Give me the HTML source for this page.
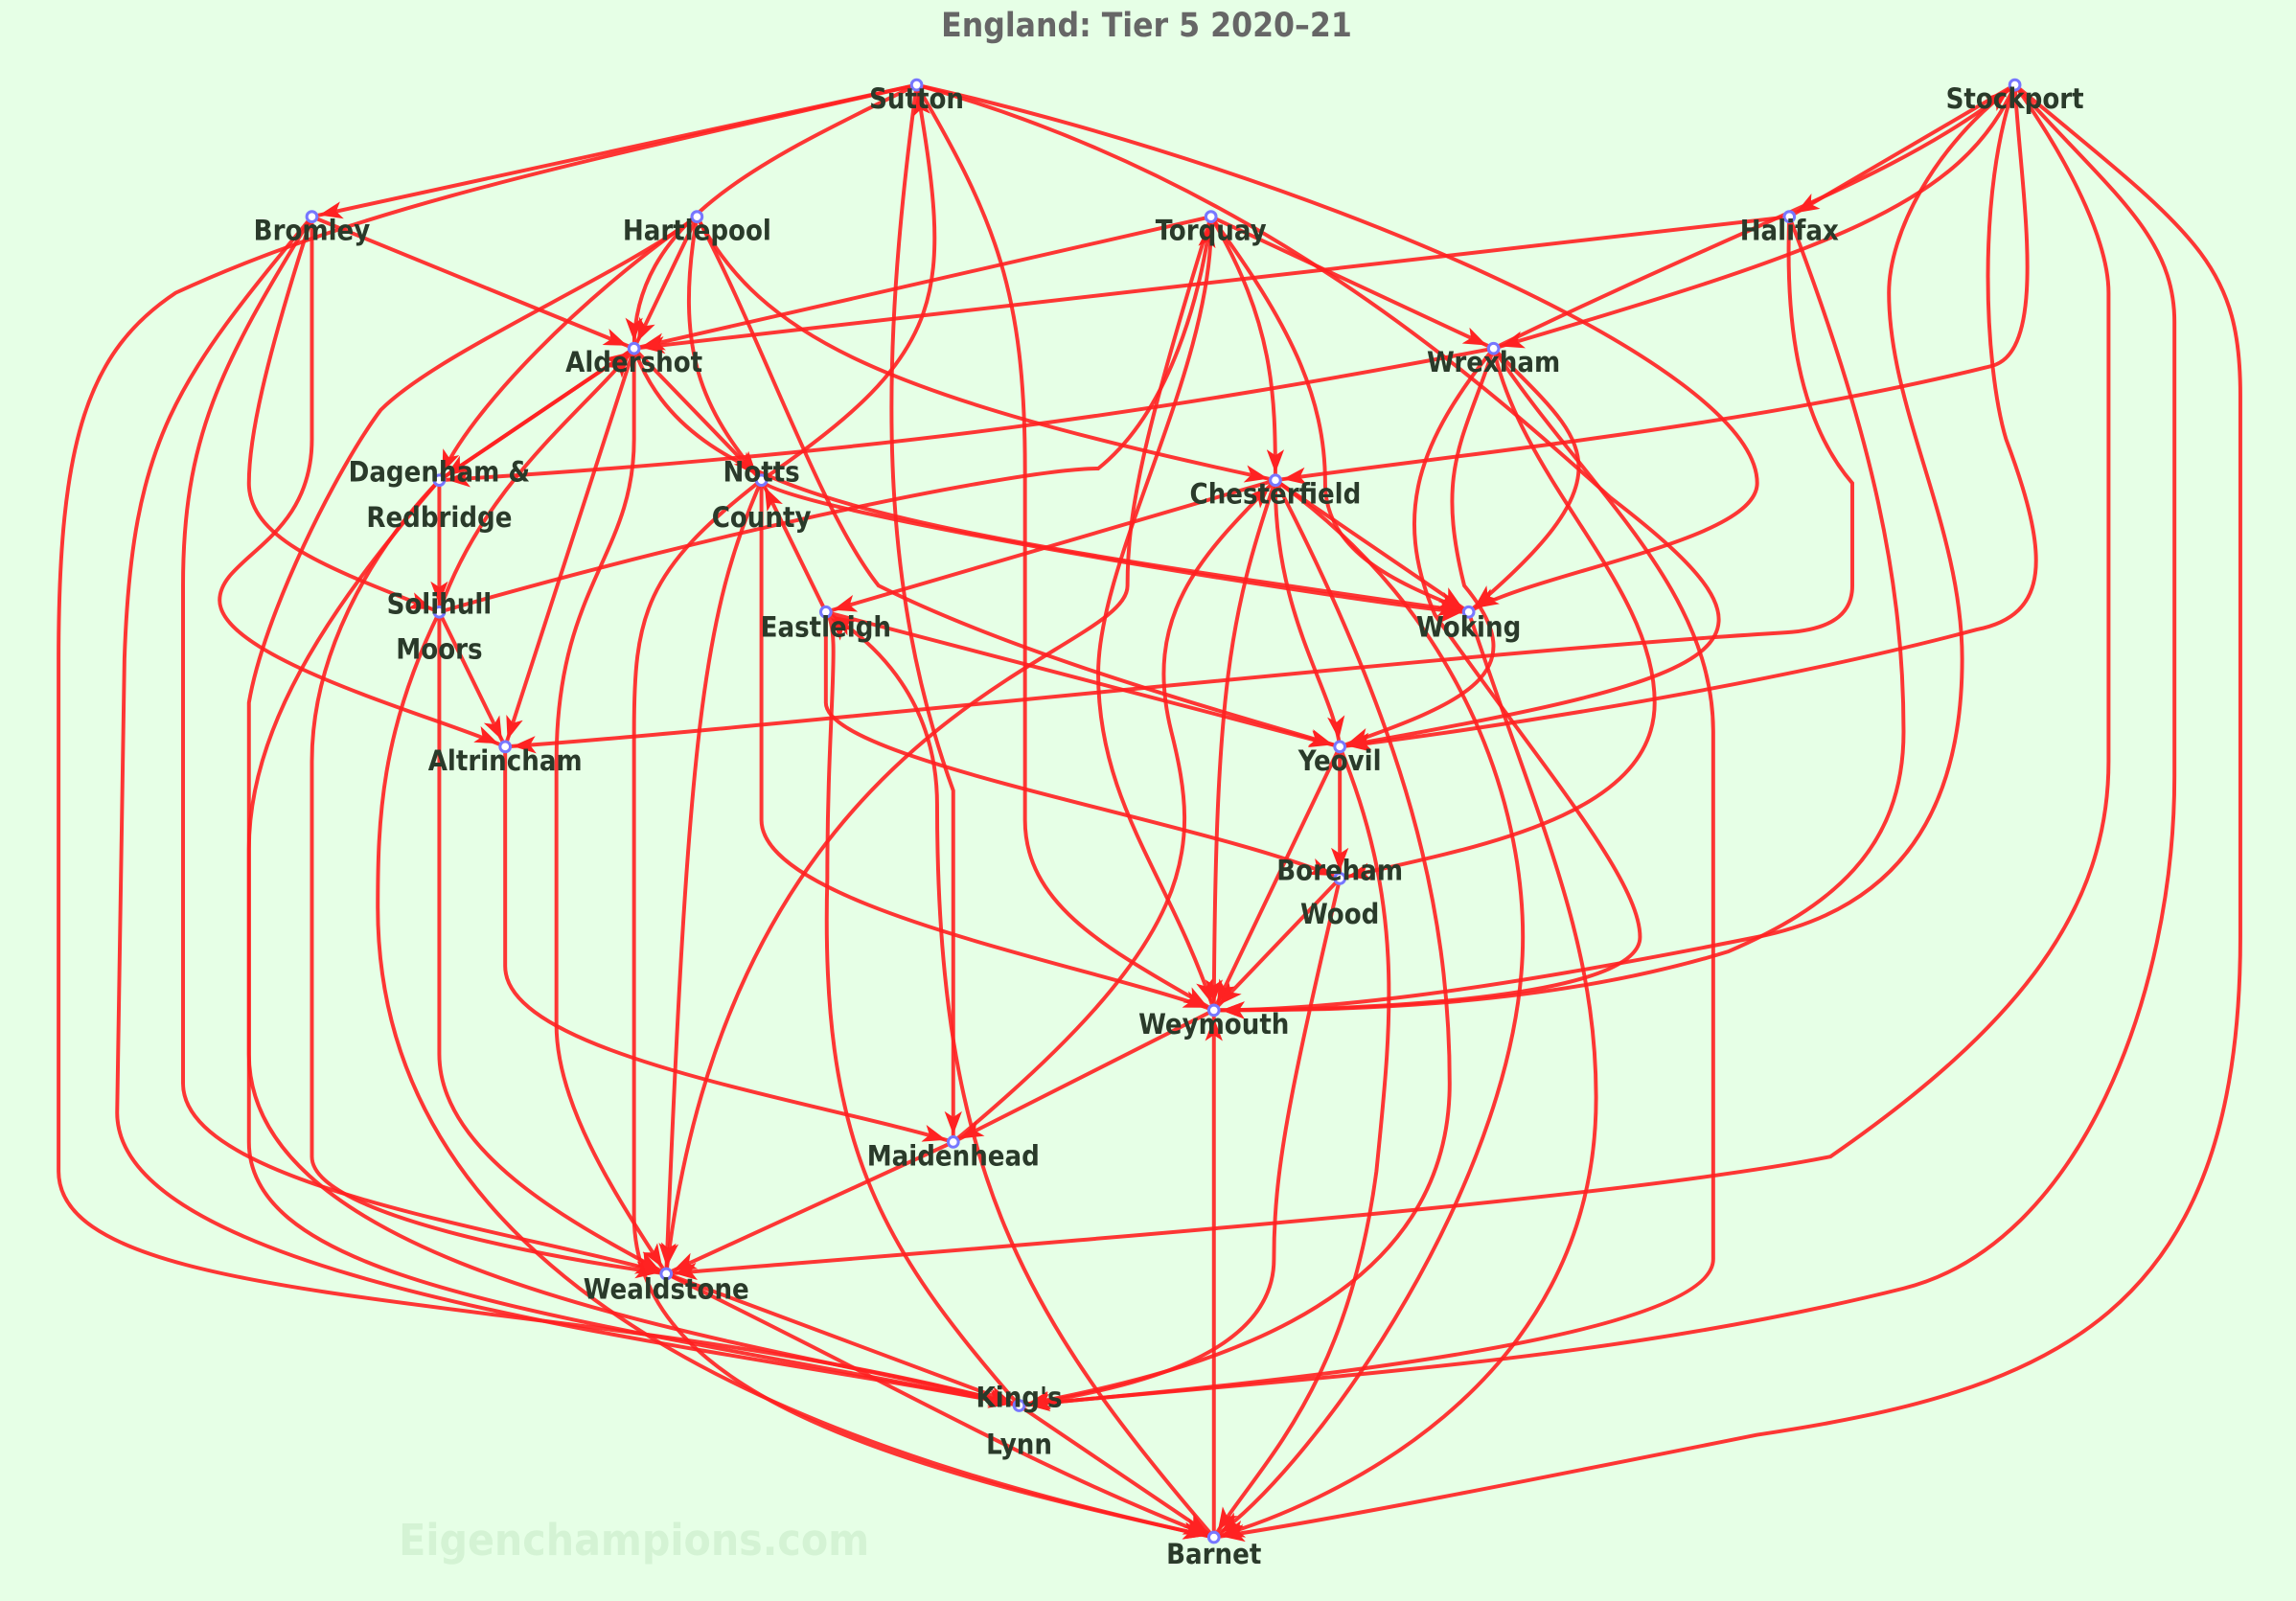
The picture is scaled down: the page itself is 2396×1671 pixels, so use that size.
<!DOCTYPE html>
<html><head><meta charset="utf-8">
<style>
html,body{margin:0;padding:0;background:#e6ffe6;}
svg{display:block;}
text{font-family:"DejaVu Sans Condensed","DejaVu Sans","Liberation Sans",sans-serif;font-weight:bold;}
</style></head>
<body>
<svg width="2396" height="1671" viewBox="0 0 1568 1093.5" preserveAspectRatio="none" xmlns="http://www.w3.org/2000/svg">
<defs>
<marker id="a" markerUnits="userSpaceOnUse" markerWidth="16" markerHeight="12" refX="21" refY="6" orient="auto">
<path d="M0,0 L16,6 L0,12 L4,6 Z" fill="#ff2222"/>
</marker>
</defs>
<rect width="1568" height="1094" fill="#e6ffe6"/>
<text x="783" y="25" text-anchor="middle" font-size="23" fill="#666">England: Tier 5 2020–21</text>
<text x="433" y="1062" text-anchor="middle" font-size="30" fill="#d4f3d4">Eigenchampions.com</text>
<g fill="none" stroke="#ff2020" stroke-opacity="0.9" stroke-width="2.6" marker-end="url(#a)">
<!-- Sutton -->
<path d="M626,58 L213,148"/>
<path d="M626,58 C400,110 250,140 120,200 C60,240 40,300 40,450 L40,800 C40,900 400,880 696,960"/>
<path d="M626,58 C520,110 433,150 433,238"/>
<path d="M520,328 C650,240 650,200 626,58"/>
<path d="M626,58 C600,250 600,400 651,540 L651,780"/>
<path d="M626,58 C680,150 700,200 700,320 L700,560 C700,620 760,650 829,690"/>
<path d="M626,58 C900,120 1200,250 1200,330 C1200,370 1050,390 1003,418"/>
<path d="M626,58 C850,120 1000,250 1100,340 C1230,440 1200,460 915,510"/>
<!-- Stockport -->
<path d="M1376,58 L1222,148"/>
<path d="M1376,58 C1340,140 1250,170 1020,238"/>
<path d="M1020,238 C1200,150 1300,120 1376,58"/>
<path d="M1376,58 C1380,130 1400,240 1360,250 C1200,290 1000,310 871,328"/>
<path d="M1376,58 C1350,130 1355,250 1370,300 C1400,380 1400,420 1350,430 C1200,470 1000,500 915,510"/>
<path d="M1376,58 C1320,100 1290,160 1290,200 C1290,280 1340,360 1340,450 C1340,550 1300,620 1200,640 C1000,680 900,690 829,690"/>
<path d="M1376,58 C1420,120 1440,170 1440,200 L1440,520 C1440,620 1380,700 1250,790 C1100,820 700,850 455,870"/>
<path d="M1376,58 C1440,130 1485,160 1485,220 L1485,530 C1485,680 1420,850 1300,880 C1100,930 900,940 696,960"/>
<path d="M1376,58 C1500,160 1530,180 1530,270 L1530,640 C1530,900 1400,950 1200,980 C1050,1010 900,1040 829,1050"/>
<!-- Halifax -->
<path d="M1222,148 L433,238"/>
<path d="M1222,148 C1220,200 1222,280 1265,330 L1265,400 C1265,420 1250,430 1220,432 C1000,445 500,500 345,510"/>
<path d="M1222,148 C1280,300 1300,400 1300,500 C1300,580 1250,620 1180,650 C1050,690 900,690 829,690"/>
<!-- Bromley -->
<path d="M213,148 L433,238"/>
<path d="M213,148 C180,250 170,300 170,330 C170,370 230,390 300,418"/>
<path d="M213,148 L213,300 C213,370 150,380 150,410 C150,450 300,490 345,510"/>
<path d="M213,148 C150,250 125,300 125,400 L125,740 C125,810 350,840 455,870"/>
<path d="M213,148 C120,260 90,300 85,450 L80,760 C80,880 500,920 696,960"/>
<!-- Hartlepool -->
<path d="M476,148 L433,238"/>
<path d="M476,148 C400,200 320,280 300,328"/>
<path d="M476,148 C460,240 480,280 520,328"/>
<path d="M476,148 C520,230 600,270 871,328"/>
<path d="M476,148 C520,230 560,350 600,400 C700,450 850,490 915,510"/>
<path d="M476,148 C420,190 300,240 260,280 C230,320 180,420 170,480 L170,780 C170,880 400,900 696,960"/>
<!-- Torquay -->
<path d="M827,148 L433,238"/>
<path d="M827,148 L1020,238"/>
<path d="M827,148 C870,220 871,270 871,328"/>
<path d="M827,148 C880,220 905,270 905,330 C905,380 960,400 1003,418"/>
<path d="M300,418 C500,360 700,320 750,320 C800,280 820,200 827,148"/>
<path d="M827,148 C830,250 750,380 750,460 C750,550 800,600 829,690"/>
<path d="M827,148 C780,300 770,350 770,400 C770,450 500,480 455,870"/>
<!-- Aldershot -->
<path d="M433,238 L300,328"/>
<path d="M300,328 L433,238"/>
<path d="M433,238 L520,328"/>
<path d="M433,238 C470,340 600,360 1003,418"/>
<path d="M433,238 L345,510"/>
<path d="M433,238 L433,300 C433,380 380,400 380,520 L380,700 C380,760 430,830 455,870"/>
<path d="M300,418 C330,330 400,280 433,238"/>
<!-- Wrexham -->
<path d="M1020,238 C800,280 600,310 300,328"/>
<path d="M1020,238 C1080,300 1120,320 1003,418"/>
<path d="M1020,238 C1000,300 980,320 1000,400 C1050,460 1000,480 915,510"/>
<path d="M1020,238 C1040,330 1130,400 1130,480 C1130,560 1000,580 915,600"/>
<path d="M1020,238 C970,300 950,350 980,420 C1050,520 1120,600 1120,640 C1120,680 950,690 829,690"/>
<path d="M1020,238 C1080,330 1170,400 1170,500 L1170,860 C1170,920 800,950 696,960"/>
<!-- Dagenham -->
<path d="M300,328 L300,418"/>
<path d="M300,328 C250,380 213,450 213,520 L213,790 C213,830 380,860 455,870"/>
<path d="M300,328 C220,420 170,500 170,580 L170,720 C170,880 550,920 696,960"/>
<!-- Solihull -->
<path d="M300,418 L345,510"/>
<path d="M300,418 L300,720 C300,790 400,840 455,870"/>
<path d="M300,418 C260,500 258,560 258,620 C258,900 600,1000 829,1050"/>
<!-- Notts -->
<path d="M520,328 C530,350 980,420 1003,418"/>
<path d="M564,418 L520,328"/>
<path d="M520,328 C480,420 470,500 455,870"/>
<path d="M520,328 L520,560 C520,620 750,660 829,690"/>
<path d="M520,328 C440,390 433,420 433,500 L433,830 C433,950 600,1000 829,1050"/>
<!-- Chesterfield -->
<path d="M871,328 L564,418"/>
<path d="M871,328 L1003,418"/>
<path d="M871,328 C870,420 910,470 915,510"/>
<path d="M871,328 C840,420 830,470 829,690"/>
<path d="M651,780 C820,640 820,580 800,500 C780,420 820,380 871,328"/>
<path d="M871,328 C960,500 990,620 990,740 C990,900 800,940 696,960"/>
<path d="M871,328 C1000,420 1040,550 1040,640 C1040,800 900,1000 829,1050"/>
<!-- Eastleigh -->
<path d="M564,418 L915,510"/>
<path d="M564,418 L564,480 C564,520 820,560 915,600"/>
<path d="M696,960 C600,850 560,780 565,600 C565,480 575,430 564,418"/>
<path d="M829,1050 C700,900 640,800 640,550 C640,480 600,440 564,418"/>
<!-- Woking -->
<path d="M1003,418 C1050,560 1090,640 1090,750 C1090,950 900,1030 829,1050"/>
<!-- Altrincham -->
<path d="M345,510 L345,660 C345,720 550,750 651,780"/>
<!-- Yeovil -->
<path d="M915,510 L915,600"/>
<path d="M915,510 L829,690"/>
<path d="M915,510 C960,620 950,700 940,800 C920,950 860,1000 829,1050"/>
<!-- Boreham -->
<path d="M915,600 L829,690"/>
<path d="M915,600 C880,750 870,800 870,860 C870,930 760,950 696,960"/>
<!-- Weymouth -->
<path d="M829,690 L651,780"/>
<path d="M829,1050 L829,690"/>
<!-- Maidenhead -->
<path d="M651,780 L455,870"/>
<!-- Wealdstone -->
<path d="M455,870 L696,960"/>
<path d="M455,870 C600,940 700,1000 829,1050"/>
<!-- Kings Lynn -->
<path d="M696,960 L829,1050"/>
</g>
<g fill="#fff" stroke="#7777ff" stroke-width="2">
<circle cx="626" cy="58" r="3.5"/><circle cx="1376" cy="58" r="3.5"/>
<circle cx="213" cy="148" r="3.5"/><circle cx="476" cy="148" r="3.5"/>
<circle cx="827" cy="148" r="3.5"/><circle cx="1222" cy="148" r="3.5"/>
<circle cx="433" cy="238" r="3.5"/><circle cx="1020" cy="238" r="3.5"/>
<circle cx="300" cy="328" r="3.5"/><circle cx="520" cy="328" r="3.5"/>
<circle cx="871" cy="328" r="3.5"/><circle cx="300" cy="418" r="3.5"/>
<circle cx="564" cy="418" r="3.5"/><circle cx="1003" cy="418" r="3.5"/>
<circle cx="345" cy="510" r="3.5"/><circle cx="915" cy="510" r="3.5"/>
<circle cx="915" cy="600" r="3.5"/><circle cx="829" cy="690" r="3.5"/>
<circle cx="651" cy="780" r="3.5"/><circle cx="455" cy="870" r="3.5"/>
<circle cx="696" cy="960" r="3.5"/><circle cx="829" cy="1050" r="3.5"/>
</g>
<g font-size="19" fill="#2a3a2a" text-anchor="middle">
<text x="626" y="74">Sutton</text>
<text x="1376" y="74">Stockport</text>
<text x="213" y="164">Bromley</text>
<text x="476" y="164">Hartlepool</text>
<text x="827" y="164">Torquay</text>
<text x="1222" y="164">Halifax</text>
<text x="433" y="254">Aldershot</text>
<text x="1020" y="254">Wrexham</text>
<text x="300" y="329">Dagenham &amp;</text>
<text x="300" y="360">Redbridge</text>
<text x="520" y="329">Notts</text>
<text x="520" y="360">County</text>
<text x="871" y="344">Chesterfield</text>
<text x="300" y="419">Solihull</text>
<text x="300" y="450">Moors</text>
<text x="564" y="435">Eastleigh</text>
<text x="1003" y="435">Woking</text>
<text x="345" y="526">Altrincham</text>
<text x="915" y="526">Yeovil</text>
<text x="915" y="601">Boreham</text>
<text x="915" y="631">Wood</text>
<text x="829" y="706">Weymouth</text>
<text x="651" y="796">Maidenhead</text>
<text x="455" y="887">Wealdstone</text>
<text x="696" y="961">King's</text>
<text x="696" y="993">Lynn</text>
<text x="829" y="1068">Barnet</text>
</g>
</svg>
</body></html>
